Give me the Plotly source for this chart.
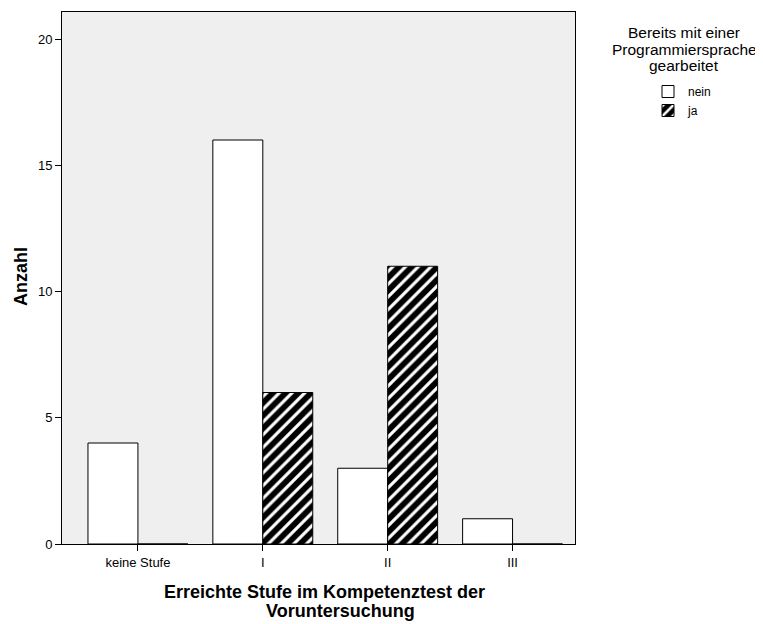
import plotly.graph_objects as go

categories = ["keine Stufe", "I", "II", "III"]
nein_values = [4, 16, 3, 1]
ja_values = [0, 6, 11, 0]
series_names = ["nein", "ja"]
y_ticks = [0, 5, 10, 15, 20]
legend_title_lines = ["Bereits mit einer", "Programmiersprache", "gearbeitet"]
x_title_lines = ["Erreichte Stufe im Kompetenztest der", "Voruntersuchung"]
y_title = "Anzahl"

FONT = "Arial, Liberation Sans, sans-serif"

# page offset from default body margin (8px)
W, H = 755, 616
ML, MR, MT, MB = 54, 188, 4, 80
PL, PT = 8 + ML, 8 + MT
PW, PH = W - ML - MR, H - MT - MB


def px_x(px):
    return (px - PL) / PW


def px_y(py):
    return (PT + PH - py) / PH


fig = go.Figure()
fig.add_trace(go.Bar(
    x=categories, y=nein_values, name=series_names[0],
    marker=dict(color="white", line=dict(color="black", width=1)),
))
fig.add_trace(go.Bar(
    x=categories, y=ja_values, name=series_names[1],
    marker=dict(color="black", line=dict(color="black", width=1),
                pattern=dict(shape="/", fgcolor="white", bgcolor="black",
                             size=9, solidity=0.35, fillmode="replace")),
))

annotations = []
for text, py in zip(legend_title_lines, [32.5, 49.5, 66]):
    annotations.append(dict(text=text, x=px_x(684), y=px_y(py), xref="paper", yref="paper",
                            xanchor="center", yanchor="middle", showarrow=False,
                            font=dict(size=15.5, family=FONT, color="black")))
for text, cx, py in zip(x_title_lines, [324.5, 340], [592, 611]):
    annotations.append(dict(text="<b>" + text + "</b>", x=px_x(cx), y=px_y(py),
                            xref="paper", yref="paper",
                            xanchor="center", yanchor="middle", showarrow=False,
                            font=dict(size=18, family=FONT, color="black")))
annotations.append(dict(text="<b>" + y_title + "</b>", x=px_x(21), y=px_y(277),
                        xref="paper", yref="paper", textangle=-90,
                        xanchor="center", yanchor="middle", showarrow=False,
                        font=dict(size=18, family=FONT, color="black")))

fig.update_layout(
    width=W, height=H,
    margin=dict(l=ML, r=MR, t=MT, b=MB),
    paper_bgcolor="white",
    plot_bgcolor="#EFEFEF",
    barmode="group",
    bargap=0.2,
    bargroupgap=0,
    font=dict(family=FONT, color="black", size=12),
    showlegend=True,
    legend=dict(
        x=px_x(648), xanchor="left", y=px_y(77), yanchor="top",
        bgcolor="rgba(0,0,0,0)", font=dict(size=12),
        itemwidth=30, tracegroupgap=0,
    ),
    annotations=annotations,
    xaxis=dict(
        type="category", range=[-0.608, 3.5],
        showline=True, linecolor="black", linewidth=1, mirror=True,
        ticks="outside", ticklen=6, tickcolor="black",
        showgrid=False, zeroline=False,
        tickfont=dict(size=13),
    ),
    yaxis=dict(
        range=[0, 21.07], tickvals=y_ticks,
        showline=True, linecolor="black", linewidth=1, mirror=True,
        ticks="outside", ticklen=6, tickcolor="black",
        showgrid=False, zeroline=False,
        tickfont=dict(size=13),
    ),
)

fig.write_html("out.html")
